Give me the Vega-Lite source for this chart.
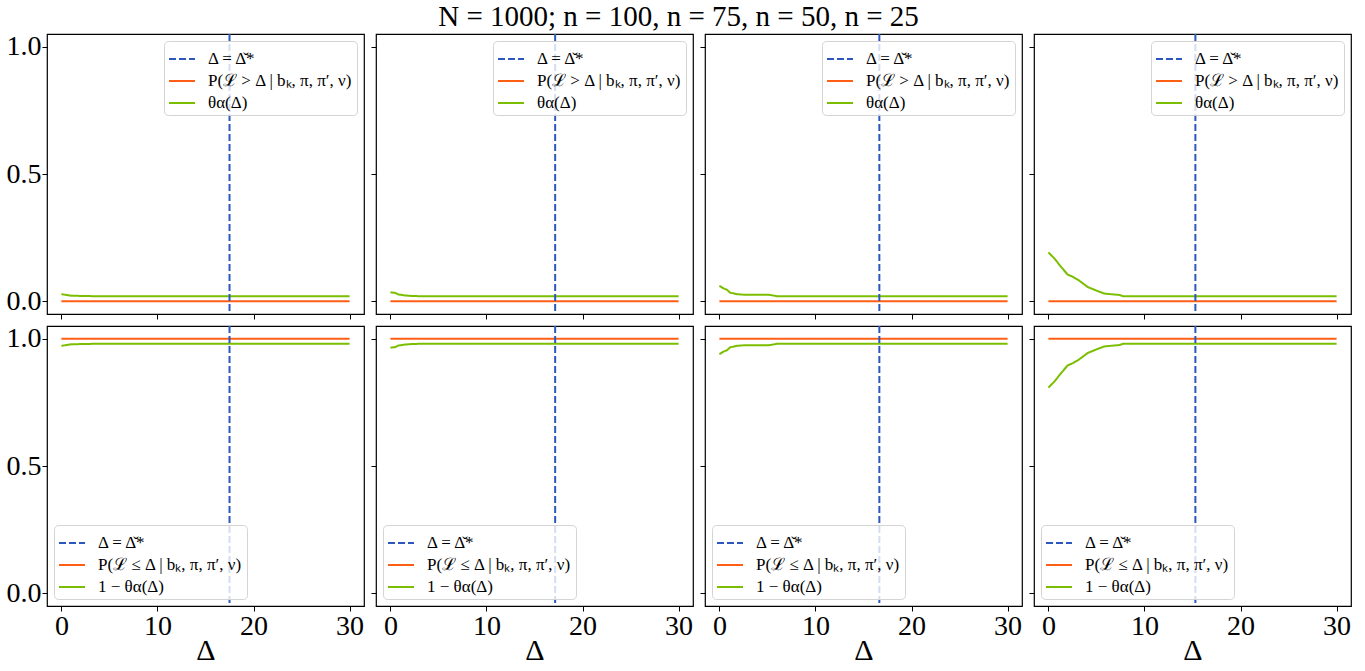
{
"$schema": "https://vega.github.io/schema/vega-lite/v6.json",
"padding": {"left": 5, "top": 3, "right": 5, "bottom": 0},
"spacing": 3,
"title": {"text": "N = 1000; n = 100, n = 75, n = 50, n = 25", "font": "Liberation Serif", "fontSize": 29, "fontWeight": "normal", "color": "black", "anchor": "middle", "offset": 0},
"config": {
  "view": {"stroke": "black", "strokeWidth": 1.2},
  "axis": {"domain": false, "grid": false, "tickColor": "black", "tickSize": 5, "tickWidth": 1, "labelColor": "black", "labelFont": "Liberation Serif", "labelFontSize": 28, "titleFont": "Liberation Serif", "titleFontSize": 30, "titleFontWeight": "normal", "titleColor": "black", "labelPadding": 1, "titlePadding": -5},
  "legend": {"fillColor": "rgba(255,255,255,0.8)", "strokeColor": "#d4d4d4", "cornerRadius": 4, "padding": 4, "rowPadding": -4, "offset": 7, "labelFont": "Liberation Serif", "labelFontSize": 17, "labelColor": "black", "symbolType": "stroke", "symbolSize": 676, "symbolStrokeWidth": 2, "labelLimit": 400, "labelOffset": 12}
},
"datasets": {
  "curves": [
    {"k":"t1","s":"P(ℒ > Δ | bₖ, π, π′, ν)","x":0,"y":0},{"k":"t1","s":"P(ℒ > Δ | bₖ, π, π′, ν)","x":30,"y":0},
    {"k":"t1","s":"θα(Δ)","x":0,"y":0.028},{"k":"t1","s":"θα(Δ)","x":0.5,"y":0.025},{"k":"t1","s":"θα(Δ)","x":1.0,"y":0.022},{"k":"t1","s":"θα(Δ)","x":2.0,"y":0.021},{"k":"t1","s":"θα(Δ)","x":3.3,"y":0.02},{"k":"t1","s":"θα(Δ)","x":30,"y":0.02},
    {"k":"t2","s":"P(ℒ > Δ | bₖ, π, π′, ν)","x":0,"y":0},{"k":"t2","s":"P(ℒ > Δ | bₖ, π, π′, ν)","x":30,"y":0},
    {"k":"t2","s":"θα(Δ)","x":0,"y":0.035},{"k":"t2","s":"θα(Δ)","x":0.5,"y":0.033},{"k":"t2","s":"θα(Δ)","x":0.8,"y":0.027},{"k":"t2","s":"θα(Δ)","x":1.5,"y":0.023},{"k":"t2","s":"θα(Δ)","x":2.2,"y":0.021},{"k":"t2","s":"θα(Δ)","x":3.0,"y":0.02},{"k":"t2","s":"θα(Δ)","x":30,"y":0.02},
    {"k":"t3","s":"P(ℒ > Δ | bₖ, π, π′, ν)","x":0,"y":0},{"k":"t3","s":"P(ℒ > Δ | bₖ, π, π′, ν)","x":30,"y":0},
    {"k":"t3","s":"θα(Δ)","x":0,"y":0.061},{"k":"t3","s":"θα(Δ)","x":0.4,"y":0.051},{"k":"t3","s":"θα(Δ)","x":0.8,"y":0.045},{"k":"t3","s":"θα(Δ)","x":1.1,"y":0.034},{"k":"t3","s":"θα(Δ)","x":1.8,"y":0.028},{"k":"t3","s":"θα(Δ)","x":2.5,"y":0.026},{"k":"t3","s":"θα(Δ)","x":5.1,"y":0.026},{"k":"t3","s":"θα(Δ)","x":6.0,"y":0.02},{"k":"t3","s":"θα(Δ)","x":30,"y":0.02},
    {"k":"t4","s":"P(ℒ > Δ | bₖ, π, π′, ν)","x":0,"y":0},{"k":"t4","s":"P(ℒ > Δ | bₖ, π, π′, ν)","x":30,"y":0},
    {"k":"t4","s":"θα(Δ)","x":0,"y":0.192},{"k":"t4","s":"θα(Δ)","x":0.63,"y":0.168},{"k":"t4","s":"θα(Δ)","x":1.32,"y":0.135},{"k":"t4","s":"θα(Δ)","x":2.0,"y":0.105},{"k":"t4","s":"θα(Δ)","x":2.6,"y":0.095},{"k":"t4","s":"θα(Δ)","x":3.06,"y":0.085},{"k":"t4","s":"θα(Δ)","x":4.1,"y":0.056},{"k":"t4","s":"θα(Δ)","x":5.0,"y":0.042},{"k":"t4","s":"θα(Δ)","x":5.85,"y":0.03},{"k":"t4","s":"θα(Δ)","x":7.4,"y":0.025},{"k":"t4","s":"θα(Δ)","x":7.76,"y":0.02},{"k":"t4","s":"θα(Δ)","x":30,"y":0.02},
    {"k":"b1","s":"P(ℒ ≤ Δ | bₖ, π, π′, ν)","x":0,"y":1},{"k":"b1","s":"P(ℒ ≤ Δ | bₖ, π, π′, ν)","x":30,"y":1},
    {"k":"b1","s":"1 − θα(Δ)","x":0,"y":0.972},{"k":"b1","s":"1 − θα(Δ)","x":0.5,"y":0.975},{"k":"b1","s":"1 − θα(Δ)","x":1.0,"y":0.978},{"k":"b1","s":"1 − θα(Δ)","x":2.0,"y":0.979},{"k":"b1","s":"1 − θα(Δ)","x":3.3,"y":0.98},{"k":"b1","s":"1 − θα(Δ)","x":30,"y":0.98},
    {"k":"b2","s":"P(ℒ ≤ Δ | bₖ, π, π′, ν)","x":0,"y":1},{"k":"b2","s":"P(ℒ ≤ Δ | bₖ, π, π′, ν)","x":30,"y":1},
    {"k":"b2","s":"1 − θα(Δ)","x":0,"y":0.965},{"k":"b2","s":"1 − θα(Δ)","x":0.5,"y":0.967},{"k":"b2","s":"1 − θα(Δ)","x":0.8,"y":0.973},{"k":"b2","s":"1 − θα(Δ)","x":1.5,"y":0.977},{"k":"b2","s":"1 − θα(Δ)","x":2.2,"y":0.979},{"k":"b2","s":"1 − θα(Δ)","x":3.0,"y":0.98},{"k":"b2","s":"1 − θα(Δ)","x":30,"y":0.98},
    {"k":"b3","s":"P(ℒ ≤ Δ | bₖ, π, π′, ν)","x":0,"y":1},{"k":"b3","s":"P(ℒ ≤ Δ | bₖ, π, π′, ν)","x":30,"y":1},
    {"k":"b3","s":"1 − θα(Δ)","x":0,"y":0.939},{"k":"b3","s":"1 − θα(Δ)","x":0.4,"y":0.949},{"k":"b3","s":"1 − θα(Δ)","x":0.8,"y":0.955},{"k":"b3","s":"1 − θα(Δ)","x":1.1,"y":0.966},{"k":"b3","s":"1 − θα(Δ)","x":1.8,"y":0.972},{"k":"b3","s":"1 − θα(Δ)","x":2.5,"y":0.974},{"k":"b3","s":"1 − θα(Δ)","x":5.1,"y":0.974},{"k":"b3","s":"1 − θα(Δ)","x":6.0,"y":0.98},{"k":"b3","s":"1 − θα(Δ)","x":30,"y":0.98},
    {"k":"b4","s":"P(ℒ ≤ Δ | bₖ, π, π′, ν)","x":0,"y":1},{"k":"b4","s":"P(ℒ ≤ Δ | bₖ, π, π′, ν)","x":30,"y":1},
    {"k":"b4","s":"1 − θα(Δ)","x":0,"y":0.808},{"k":"b4","s":"1 − θα(Δ)","x":0.63,"y":0.832},{"k":"b4","s":"1 − θα(Δ)","x":1.32,"y":0.865},{"k":"b4","s":"1 − θα(Δ)","x":2.0,"y":0.895},{"k":"b4","s":"1 − θα(Δ)","x":2.6,"y":0.905},{"k":"b4","s":"1 − θα(Δ)","x":3.06,"y":0.915},{"k":"b4","s":"1 − θα(Δ)","x":4.1,"y":0.944},{"k":"b4","s":"1 − θα(Δ)","x":5.0,"y":0.958},{"k":"b4","s":"1 − θα(Δ)","x":5.85,"y":0.97},{"k":"b4","s":"1 − θα(Δ)","x":7.4,"y":0.975},{"k":"b4","s":"1 − θα(Δ)","x":7.76,"y":0.98},{"k":"b4","s":"1 − θα(Δ)","x":30,"y":0.98}
  ],
  "vlines": [
    {"p":1,"s":"Δ = Δ̌*","x":17.5},{"p":2,"s":"Δ = Δ̌*","x":17.15},{"p":3,"s":"Δ = Δ̌*","x":16.65},{"p":4,"s":"Δ = Δ̌*","x":15.3}
  ]
},
"resolve": {"scale": {"color": "independent", "strokeDash": "independent"}, "legend": {"color": "independent", "strokeDash": "independent"}},
"vconcat": [
{
"spacing": 12,
"bounds": "flush",
"resolve": {"scale": {"color": "independent", "strokeDash": "independent"}, "legend": {"color": "independent", "strokeDash": "independent"}},
"hconcat": [
 {"width": 317, "height": 280, "layer": [
  {"data": {"name": "curves"}, "transform": [{"filter": "datum.k == 't1'"}], "mark": {"type": "line", "strokeWidth": 2},
   "encoding": {
    "x": {"field": "x", "type": "quantitative", "scale": {"domain": [-1.5, 31.5], "nice": false, "zero": false}, "axis": {"values": [0,10,20,30], "labels": false, "title": null}},
    "y": {"field": "y", "type": "quantitative", "scale": {"domain": [-0.05, 1.05], "nice": false, "zero": false}, "axis": {"values": [0,0.5,1], "format": ".1f", "title": null}},
    "color": {"field": "s", "type": "nominal", "scale": {"domain": ["Δ = Δ̌*","P(ℒ > Δ | bₖ, π, π′, ν)","θα(Δ)"], "range": ["#2B57BF","#FF5F15","#7BBE00"]}, "legend": {"title": null, "orient": "top-right"}},
    "strokeDash": {"field": "s", "type": "nominal", "scale": {"domain": ["Δ = Δ̌*","P(ℒ > Δ | bₖ, π, π′, ν)","θα(Δ)"], "range": [[7,3],[1,0],[1,0]]}, "legend": {"title": null, "orient": "top-right"}}
   }},
  {"data": {"name": "vlines"}, "transform": [{"filter": "datum.p == 1"}], "mark": {"type": "rule", "strokeWidth": 2},
   "encoding": {"x": {"field": "x", "type": "quantitative"}, "color": {"field": "s", "type": "nominal", "legend": {"title": null, "orient": "top-right"}}, "strokeDash": {"field": "s", "type": "nominal", "legend": {"title": null, "orient": "top-right"}}}}
 ]},
 {"width": 317, "height": 280, "layer": [
  {"data": {"name": "curves"}, "transform": [{"filter": "datum.k == 't2'"}], "mark": {"type": "line", "strokeWidth": 2},
   "encoding": {
    "x": {"field": "x", "type": "quantitative", "scale": {"domain": [-1.5, 31.5], "nice": false, "zero": false}, "axis": {"values": [0,10,20,30], "labels": false, "title": null}},
    "y": {"field": "y", "type": "quantitative", "scale": {"domain": [-0.05, 1.05], "nice": false, "zero": false}, "axis": {"values": [0,0.5,1], "labels": false, "title": null}},
    "color": {"field": "s", "type": "nominal", "scale": {"domain": ["Δ = Δ̌*","P(ℒ > Δ | bₖ, π, π′, ν)","θα(Δ)"], "range": ["#2B57BF","#FF5F15","#7BBE00"]}, "legend": {"title": null, "orient": "top-right"}},
    "strokeDash": {"field": "s", "type": "nominal", "scale": {"domain": ["Δ = Δ̌*","P(ℒ > Δ | bₖ, π, π′, ν)","θα(Δ)"], "range": [[7,3],[1,0],[1,0]]}, "legend": {"title": null, "orient": "top-right"}}
   }},
  {"data": {"name": "vlines"}, "transform": [{"filter": "datum.p == 2"}], "mark": {"type": "rule", "strokeWidth": 2},
   "encoding": {"x": {"field": "x", "type": "quantitative"}, "color": {"field": "s", "type": "nominal", "legend": {"title": null, "orient": "top-right"}}, "strokeDash": {"field": "s", "type": "nominal", "legend": {"title": null, "orient": "top-right"}}}}
 ]},
 {"width": 317, "height": 280, "layer": [
  {"data": {"name": "curves"}, "transform": [{"filter": "datum.k == 't3'"}], "mark": {"type": "line", "strokeWidth": 2},
   "encoding": {
    "x": {"field": "x", "type": "quantitative", "scale": {"domain": [-1.5, 31.5], "nice": false, "zero": false}, "axis": {"values": [0,10,20,30], "labels": false, "title": null}},
    "y": {"field": "y", "type": "quantitative", "scale": {"domain": [-0.05, 1.05], "nice": false, "zero": false}, "axis": {"values": [0,0.5,1], "labels": false, "title": null}},
    "color": {"field": "s", "type": "nominal", "scale": {"domain": ["Δ = Δ̌*","P(ℒ > Δ | bₖ, π, π′, ν)","θα(Δ)"], "range": ["#2B57BF","#FF5F15","#7BBE00"]}, "legend": {"title": null, "orient": "top-right"}},
    "strokeDash": {"field": "s", "type": "nominal", "scale": {"domain": ["Δ = Δ̌*","P(ℒ > Δ | bₖ, π, π′, ν)","θα(Δ)"], "range": [[7,3],[1,0],[1,0]]}, "legend": {"title": null, "orient": "top-right"}}
   }},
  {"data": {"name": "vlines"}, "transform": [{"filter": "datum.p == 3"}], "mark": {"type": "rule", "strokeWidth": 2},
   "encoding": {"x": {"field": "x", "type": "quantitative"}, "color": {"field": "s", "type": "nominal", "legend": {"title": null, "orient": "top-right"}}, "strokeDash": {"field": "s", "type": "nominal", "legend": {"title": null, "orient": "top-right"}}}}
 ]},
 {"width": 317, "height": 280, "layer": [
  {"data": {"name": "curves"}, "transform": [{"filter": "datum.k == 't4'"}], "mark": {"type": "line", "strokeWidth": 2},
   "encoding": {
    "x": {"field": "x", "type": "quantitative", "scale": {"domain": [-1.5, 31.5], "nice": false, "zero": false}, "axis": {"values": [0,10,20,30], "labels": false, "title": null}},
    "y": {"field": "y", "type": "quantitative", "scale": {"domain": [-0.05, 1.05], "nice": false, "zero": false}, "axis": {"values": [0,0.5,1], "labels": false, "title": null}},
    "color": {"field": "s", "type": "nominal", "scale": {"domain": ["Δ = Δ̌*","P(ℒ > Δ | bₖ, π, π′, ν)","θα(Δ)"], "range": ["#2B57BF","#FF5F15","#7BBE00"]}, "legend": {"title": null, "orient": "top-right"}},
    "strokeDash": {"field": "s", "type": "nominal", "scale": {"domain": ["Δ = Δ̌*","P(ℒ > Δ | bₖ, π, π′, ν)","θα(Δ)"], "range": [[7,3],[1,0],[1,0]]}, "legend": {"title": null, "orient": "top-right"}}
   }},
  {"data": {"name": "vlines"}, "transform": [{"filter": "datum.p == 4"}], "mark": {"type": "rule", "strokeWidth": 2},
   "encoding": {"x": {"field": "x", "type": "quantitative"}, "color": {"field": "s", "type": "nominal", "legend": {"title": null, "orient": "top-right"}}, "strokeDash": {"field": "s", "type": "nominal", "legend": {"title": null, "orient": "top-right"}}}}
 ]}
]},
{
"spacing": 12,
"bounds": "flush",
"resolve": {"scale": {"color": "independent", "strokeDash": "independent"}, "legend": {"color": "independent", "strokeDash": "independent"}},
"hconcat": [
 {"width": 317, "height": 280, "layer": [
  {"data": {"name": "curves"}, "transform": [{"filter": "datum.k == 'b1'"}], "mark": {"type": "line", "strokeWidth": 2},
   "encoding": {
    "x": {"field": "x", "type": "quantitative", "scale": {"domain": [-1.5, 31.5], "nice": false, "zero": false}, "axis": {"values": [0,10,20,30], "title": "Δ"}},
    "y": {"field": "y", "type": "quantitative", "scale": {"domain": [-0.05, 1.05], "nice": false, "zero": false}, "axis": {"values": [0,0.5,1], "format": ".1f", "title": null}},
    "color": {"field": "s", "type": "nominal", "scale": {"domain": ["Δ = Δ̌*","P(ℒ ≤ Δ | bₖ, π, π′, ν)","1 − θα(Δ)"], "range": ["#2B57BF","#FF5F15","#7BBE00"]}, "legend": {"title": null, "orient": "bottom-left"}},
    "strokeDash": {"field": "s", "type": "nominal", "scale": {"domain": ["Δ = Δ̌*","P(ℒ ≤ Δ | bₖ, π, π′, ν)","1 − θα(Δ)"], "range": [[7,3],[1,0],[1,0]]}, "legend": {"title": null, "orient": "bottom-left"}}
   }},
  {"data": {"name": "vlines"}, "transform": [{"filter": "datum.p == 1"}], "mark": {"type": "rule", "strokeWidth": 2},
   "encoding": {"x": {"field": "x", "type": "quantitative"}, "color": {"field": "s", "type": "nominal", "legend": {"title": null, "orient": "bottom-left"}}, "strokeDash": {"field": "s", "type": "nominal", "legend": {"title": null, "orient": "bottom-left"}}}}
 ]},
 {"width": 317, "height": 280, "layer": [
  {"data": {"name": "curves"}, "transform": [{"filter": "datum.k == 'b2'"}], "mark": {"type": "line", "strokeWidth": 2},
   "encoding": {
    "x": {"field": "x", "type": "quantitative", "scale": {"domain": [-1.5, 31.5], "nice": false, "zero": false}, "axis": {"values": [0,10,20,30], "title": "Δ"}},
    "y": {"field": "y", "type": "quantitative", "scale": {"domain": [-0.05, 1.05], "nice": false, "zero": false}, "axis": {"values": [0,0.5,1], "labels": false, "title": null}},
    "color": {"field": "s", "type": "nominal", "scale": {"domain": ["Δ = Δ̌*","P(ℒ ≤ Δ | bₖ, π, π′, ν)","1 − θα(Δ)"], "range": ["#2B57BF","#FF5F15","#7BBE00"]}, "legend": {"title": null, "orient": "bottom-left"}},
    "strokeDash": {"field": "s", "type": "nominal", "scale": {"domain": ["Δ = Δ̌*","P(ℒ ≤ Δ | bₖ, π, π′, ν)","1 − θα(Δ)"], "range": [[7,3],[1,0],[1,0]]}, "legend": {"title": null, "orient": "bottom-left"}}
   }},
  {"data": {"name": "vlines"}, "transform": [{"filter": "datum.p == 2"}], "mark": {"type": "rule", "strokeWidth": 2},
   "encoding": {"x": {"field": "x", "type": "quantitative"}, "color": {"field": "s", "type": "nominal", "legend": {"title": null, "orient": "bottom-left"}}, "strokeDash": {"field": "s", "type": "nominal", "legend": {"title": null, "orient": "bottom-left"}}}}
 ]},
 {"width": 317, "height": 280, "layer": [
  {"data": {"name": "curves"}, "transform": [{"filter": "datum.k == 'b3'"}], "mark": {"type": "line", "strokeWidth": 2},
   "encoding": {
    "x": {"field": "x", "type": "quantitative", "scale": {"domain": [-1.5, 31.5], "nice": false, "zero": false}, "axis": {"values": [0,10,20,30], "title": "Δ"}},
    "y": {"field": "y", "type": "quantitative", "scale": {"domain": [-0.05, 1.05], "nice": false, "zero": false}, "axis": {"values": [0,0.5,1], "labels": false, "title": null}},
    "color": {"field": "s", "type": "nominal", "scale": {"domain": ["Δ = Δ̌*","P(ℒ ≤ Δ | bₖ, π, π′, ν)","1 − θα(Δ)"], "range": ["#2B57BF","#FF5F15","#7BBE00"]}, "legend": {"title": null, "orient": "bottom-left"}},
    "strokeDash": {"field": "s", "type": "nominal", "scale": {"domain": ["Δ = Δ̌*","P(ℒ ≤ Δ | bₖ, π, π′, ν)","1 − θα(Δ)"], "range": [[7,3],[1,0],[1,0]]}, "legend": {"title": null, "orient": "bottom-left"}}
   }},
  {"data": {"name": "vlines"}, "transform": [{"filter": "datum.p == 3"}], "mark": {"type": "rule", "strokeWidth": 2},
   "encoding": {"x": {"field": "x", "type": "quantitative"}, "color": {"field": "s", "type": "nominal", "legend": {"title": null, "orient": "bottom-left"}}, "strokeDash": {"field": "s", "type": "nominal", "legend": {"title": null, "orient": "bottom-left"}}}}
 ]},
 {"width": 317, "height": 280, "layer": [
  {"data": {"name": "curves"}, "transform": [{"filter": "datum.k == 'b4'"}], "mark": {"type": "line", "strokeWidth": 2},
   "encoding": {
    "x": {"field": "x", "type": "quantitative", "scale": {"domain": [-1.5, 31.5], "nice": false, "zero": false}, "axis": {"values": [0,10,20,30], "title": "Δ"}},
    "y": {"field": "y", "type": "quantitative", "scale": {"domain": [-0.05, 1.05], "nice": false, "zero": false}, "axis": {"values": [0,0.5,1], "labels": false, "title": null}},
    "color": {"field": "s", "type": "nominal", "scale": {"domain": ["Δ = Δ̌*","P(ℒ ≤ Δ | bₖ, π, π′, ν)","1 − θα(Δ)"], "range": ["#2B57BF","#FF5F15","#7BBE00"]}, "legend": {"title": null, "orient": "bottom-left"}},
    "strokeDash": {"field": "s", "type": "nominal", "scale": {"domain": ["Δ = Δ̌*","P(ℒ ≤ Δ | bₖ, π, π′, ν)","1 − θα(Δ)"], "range": [[7,3],[1,0],[1,0]]}, "legend": {"title": null, "orient": "bottom-left"}}
   }},
  {"data": {"name": "vlines"}, "transform": [{"filter": "datum.p == 4"}], "mark": {"type": "rule", "strokeWidth": 2},
   "encoding": {"x": {"field": "x", "type": "quantitative"}, "color": {"field": "s", "type": "nominal", "legend": {"title": null, "orient": "bottom-left"}}, "strokeDash": {"field": "s", "type": "nominal", "legend": {"title": null, "orient": "bottom-left"}}}}
 ]}
]}
]
}
